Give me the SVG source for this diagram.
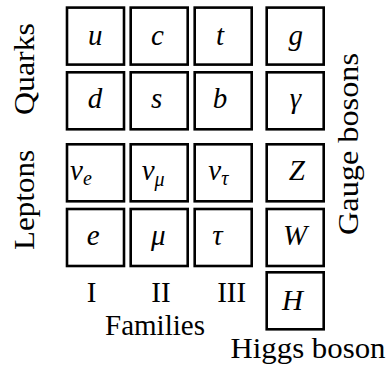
<svg xmlns="http://www.w3.org/2000/svg" width="388" height="367" viewBox="0 0 388 367" font-family="Liberation Serif, DejaVu Serif, serif">
<style>
.box{fill:#fff;stroke:#000;stroke-width:2.6}
.m{font-style:italic;font-size:29px;text-anchor:middle}
.ms{font-style:italic;font-size:29px}
.sub{font-size:20px}
.lbl{font-size:29px;text-anchor:middle}
</style>
<rect width="388" height="367" fill="#fff"/>
<g id="u"><rect class="box" x="67" y="7.6" width="57" height="57"/><text class="m" x="95.3" y="45">u</text></g>
<g id="c"><rect class="box" x="130.7" y="7.6" width="57" height="57"/><text class="m" x="157.5" y="45">c</text></g>
<g id="t"><rect class="box" x="194.7" y="7.6" width="57" height="57"/><text class="m" x="220" y="45">t</text></g>
<g id="g"><rect class="box" x="266.7" y="7.6" width="57" height="57"/><text class="m" x="295.8" y="45">g</text></g>
<g id="d"><rect class="box" x="67" y="72.3" width="57" height="57"/><text class="m" x="95" y="108.3">d</text></g>
<g id="s"><rect class="box" x="130.7" y="72.3" width="57" height="57"/><text class="m" x="156.7" y="108.3">s</text></g>
<g id="b"><rect class="box" x="194.7" y="72.3" width="57" height="57"/><text class="m" x="220" y="108.3">b</text></g>
<g id="gamma"><rect class="box" x="266.7" y="72.3" width="57" height="57"/><text class="m" x="295.5" y="108.3">γ</text></g>
<g id="nu_e"><rect class="box" x="67" y="144.3" width="57" height="57"/><text class="ms" x="70" y="180">ν<tspan class="sub" dy="5">e</tspan></text></g>
<g id="nu_mu"><rect class="box" x="130.7" y="144.3" width="57" height="57"/><text class="ms" x="141.7" y="180">ν<tspan class="sub" dy="6">μ</tspan></text></g>
<g id="nu_tau"><rect class="box" x="194.7" y="144.3" width="57" height="57"/><text class="ms" x="208.3" y="180">ν<tspan class="sub" dy="5">τ</tspan></text></g>
<g id="Z"><rect class="box" x="266.7" y="144.3" width="57" height="57"/><text class="m" x="296.7" y="180">Z</text></g>
<g id="e"><rect class="box" x="67" y="209" width="57" height="57"/><text class="m" x="93.3" y="245">e</text></g>
<g id="mu"><rect class="box" x="130.7" y="209" width="57" height="57"/><text class="m" x="158.3" y="245">μ</text></g>
<g id="tau"><rect class="box" x="194.7" y="209" width="57" height="57"/><text class="m" x="217.5" y="245">τ</text></g>
<g id="W"><rect class="box" x="266.7" y="209" width="57" height="57"/><text class="m" x="295" y="245">W</text></g>
<g id="H"><rect class="box" x="266.7" y="272.3" width="57" height="57"/><text class="m" x="292.5" y="310">H</text></g>
<g id="labels">
<text class="lbl" transform="translate(34,69) rotate(-90)" textLength="92" lengthAdjust="spacingAndGlyphs">Quarks</text>
<text class="lbl" transform="translate(34,200) rotate(-90)" textLength="100" lengthAdjust="spacingAndGlyphs">Leptons</text>
<text class="lbl" transform="translate(357.5,144) rotate(-90)" textLength="182" lengthAdjust="spacingAndGlyphs">Gauge bosons</text>
<text class="lbl" x="91.7" y="301.7">I</text>
<text class="lbl" x="161" y="301.7">II</text>
<text class="lbl" x="231.7" y="301.7">III</text>
<text class="lbl" x="155" y="335" textLength="100" lengthAdjust="spacingAndGlyphs">Families</text>
<text class="lbl" x="308" y="358.3" textLength="155" lengthAdjust="spacingAndGlyphs">Higgs boson</text>
</g>
</svg>
